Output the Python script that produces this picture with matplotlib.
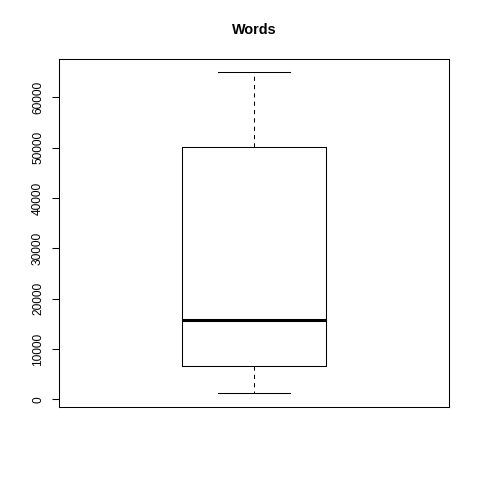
import matplotlib.pyplot as plt

plt.rcParams['font.family'] = ['Liberation Sans', 'DejaVu Sans']

# five-number summary
title = "Words"
low_whisker = 1200
q1 = 6600
median = 15800
q3 = 50200
high_whisker = 65000
y_ticks = [0, 10000, 20000, 30000, 40000, 50000, 60000]

stats = [{
    'whislo': low_whisker, 'q1': q1, 'med': median,
    'q3': q3, 'whishi': high_whisker, 'fliers': [],
}]

fig = plt.figure(figsize=(4.8, 4.8), dpi=100)
ax = fig.add_axes([0.1235, 0.1527, 0.8115, 0.7243])

ax.bxp(stats, positions=[1], widths=0.4, showfliers=False,
       boxprops=dict(color='black', linewidth=0.75),
       medianprops=dict(color='black', linewidth=2.2),
       whiskerprops=dict(color='black', linewidth=0.75, linestyle=(0, (4, 4))),
       capprops=dict(color='black', linewidth=0.75),
       capwidths=0.2)

ax.set_xlim(0.46, 1.54)
ax.set_ylim(-1470, 67600)
ax.set_xticks([])
ax.set_yticks(y_ticks)
ax.set_yticklabels([str(v) for v in y_ticks], rotation=90, va='center', fontsize=8.6)
ax.tick_params(axis='y', length=5, width=0.75, pad=6)
for s in ax.spines.values():
    s.set_linewidth(0.75)

fig.text(0.529, 0.937, title, ha='center', va='center', fontsize=10.4, fontweight='bold')

fig.savefig('out.png', dpi=100)
